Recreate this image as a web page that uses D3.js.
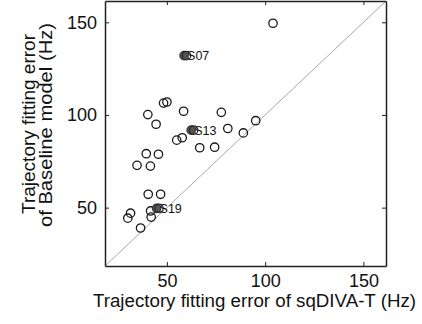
<!DOCTYPE html>
<html>
<head>
<meta charset="utf-8">
<style>
  body { margin: 0; background: #fff; }
  text { font-family: "Liberation Sans", Arial, Helvetica, sans-serif; fill: #111; }
</style>
</head>
<body>
<script src="https://cdn.jsdelivr.net/npm/d3@7"></script>
<script>
// data (Hz)
var sqdivaErr   = [104, 48.3, 50, 40.3, 44.5, 58.5, 77.7, 81, 88.9, 95.2, 55, 57.8, 66.7, 74.3,
                   39.5, 45.7, 34.8, 41.6, 40.5, 46.8, 41.7, 42, 31.5, 30.1, 36.6];
var baselineErr = [149.5, 106.4, 107, 100.2, 95, 102, 101.4, 92.7, 90.3, 96.9, 86.4, 87.7, 82.3, 82.6,
                   79.1, 78.8, 72.8, 72.4, 57.2, 57.2, 48.2, 44.9, 47, 44.3, 39];

// highlighted subjects
var subjNames    = ["S07", "S13", "S19"];
var subjSqdiva   = [59.5, 63.1, 45.5];
var subjBaseline = [132, 91.8, 49.6];

var tickVals = [50, 100, 150];
var axisDomain = [18.5, 161.5];

var margin = {top: 1, right: 36, bottom: 58, left: 105};
var width = 422 - margin.left - margin.right;
var height = 324 - margin.top - margin.bottom;

var x = d3.scaleLinear().domain(axisDomain).range([0, width]);
var y = d3.scaleLinear().domain(axisDomain).range([height, 0]);

var svg = d3.select("body").append("svg")
  .attr("width", 422)
  .attr("height", 324)
  .append("g")
  .attr("transform", "translate(" + margin.left + "," + margin.top + ")");

// y = x reference line
svg.append("line")
  .attr("x1", x(axisDomain[0])).attr("y1", y(axisDomain[0]))
  .attr("x2", x(axisDomain[1])).attr("y2", y(axisDomain[1]))
  .attr("stroke", "#a8a8a8")
  .attr("stroke-width", 1);

// box with inward ticks
function styleAxis(g) {
  g.select(".domain").attr("stroke", "#222").attr("stroke-width", 1.5);
  g.selectAll(".tick line").attr("stroke", "#222").attr("stroke-width", 1);
  g.selectAll(".tick text").style("font-size", "18px").attr("fill", "#111");
}

svg.append("g")
  .attr("transform", "translate(0," + height + ")")
  .call(d3.axisBottom(x).tickValues(tickVals).tickSizeInner(-4).tickSizeOuter(0).tickPadding(8))
  .call(styleAxis);

svg.append("g")
  .call(d3.axisTop(x).tickValues(tickVals).tickSizeInner(-4).tickSizeOuter(0).tickFormat(""))
  .call(styleAxis);

svg.append("g")
  .call(d3.axisLeft(y).tickValues(tickVals).tickSizeInner(-4).tickSizeOuter(0).tickPadding(8))
  .call(styleAxis);

svg.append("g")
  .attr("transform", "translate(" + width + ",0)")
  .call(d3.axisRight(y).tickValues(tickVals).tickSizeInner(-4).tickSizeOuter(0).tickFormat(""))
  .call(styleAxis);

// open circles
svg.append("g").selectAll("circle")
  .data(sqdivaErr)
  .enter().append("circle")
  .attr("cx", function(d) { return x(d); })
  .attr("cy", function(d, i) { return y(baselineErr[i]); })
  .attr("r", 4.2)
  .attr("fill", "none")
  .attr("stroke", "#1a1a1a")
  .attr("stroke-width", 1.3);

// highlighted subjects
var subj = svg.append("g").selectAll("g")
  .data(subjNames)
  .enter().append("g");

subj.append("circle")
  .attr("cx", function(d, i) { return x(subjSqdiva[i]) - 1.5; })
  .attr("cy", function(d, i) { return y(subjBaseline[i]); })
  .attr("r", 4.2)
  .attr("fill", "#555")
  .attr("stroke", "#333")
  .attr("stroke-width", 1.2);

subj.append("circle")
  .attr("cx", function(d, i) { return x(subjSqdiva[i]) + 1; })
  .attr("cy", function(d, i) { return y(subjBaseline[i]); })
  .attr("r", 4.2)
  .attr("fill", "none")
  .attr("stroke", "#222")
  .attr("stroke-width", 1.2);

subj.append("text")
  .attr("x", function(d, i) { return x(subjSqdiva[i]) + 1.5; })
  .attr("y", function(d, i) { return y(subjBaseline[i]); })
  .attr("dy", "0.36em")
  .style("font-size", "12.5px")
  .text(function(d) { return d; });

// axis labels
svg.append("text")
  .attr("x", width / 2 + 9)
  .attr("y", height + 41)
  .style("text-anchor", "middle")
  .style("font-size", "17.5px")
  .attr("textLength", 323)
  .attr("lengthAdjust", "spacingAndGlyphs")
  .text("Trajectory fitting error of sqDIVA-T (Hz)");

var ylab = svg.append("text")
  .attr("transform", "rotate(-90)")
  .style("text-anchor", "middle")
  .style("font-size", "18px");
ylab.append("tspan")
  .attr("x", -123)
  .attr("y", -70)
  .attr("textLength", 180)
  .attr("lengthAdjust", "spacingAndGlyphs")
  .text("Trajectory fitting error");
ylab.append("tspan")
  .attr("x", -124)
  .attr("y", -53)
  .attr("textLength", 204)
  .attr("lengthAdjust", "spacingAndGlyphs")
  .text("of Baseline model (Hz)");
</script>
</body>
</html>
